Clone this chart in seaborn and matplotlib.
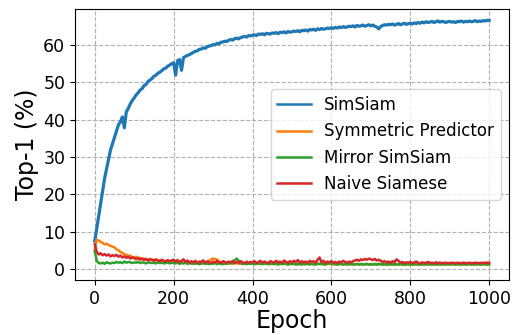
import matplotlib
matplotlib.use("Agg")
import matplotlib.pyplot as plt
import pandas as pd
import seaborn as sns
import numpy as np

# values, one point every 5 epochs (0..1000)
epochs = list(range(0, 1001, 5))

simsiam = [
    7.5, 10.8, 14.2, 17.6, 21.0, 24.3, 26.8, 29.4, 31.9, 33.6,
    35.2, 36.9, 38.6, 39.4, 40.7, 37.8, 42.1, 43.0, 44.2, 45.1,
    45.8, 46.6, 47.2, 47.9, 48.3, 49.1, 49.4, 50.2, 50.6, 51.0,
    51.6, 51.9, 52.4, 52.7, 53.1, 53.6, 53.8, 54.3, 54.6, 55.0,
    55.2, 51.9, 55.8, 56.1, 53.2, 56.6, 56.9, 57.2, 57.4, 57.7,
    58.0, 58.3, 58.4, 58.8, 58.9, 59.2, 59.1, 59.5, 59.7, 59.8,
    60.1, 60.0, 60.4, 60.3, 60.7, 60.8, 61.0, 60.9, 61.3, 61.4,
    61.3, 61.7, 61.8, 61.6, 62.0, 62.1, 62.3, 62.1, 62.5, 62.4,
    62.6, 62.7, 62.5, 62.9, 62.8, 63.0, 62.7, 63.1, 63.0, 62.9,
    63.2, 63.1, 63.3, 63.0, 63.4, 63.3, 63.5, 63.2, 63.6, 63.4,
    63.5, 63.7, 63.6, 63.8, 63.5, 63.9, 63.8, 64.0, 63.7, 64.1,
    64.0, 64.2, 63.9, 64.3, 64.1, 64.4, 64.2, 64.3, 64.5, 64.4,
    64.6, 64.4, 64.7, 64.5, 64.8, 64.6, 64.9, 64.7, 64.8, 65.0,
    64.9, 65.1, 64.8, 65.2, 65.0, 65.1, 65.3, 65.0, 65.2, 65.4,
    65.1, 65.3, 65.0, 64.8, 64.3, 64.9, 65.2, 65.4, 65.3, 65.5,
    65.4, 65.6, 65.3, 65.5, 65.7, 65.4, 65.6, 65.8, 65.5, 65.7,
    65.8, 65.6, 65.9, 65.7, 66.0, 65.8, 66.1, 65.9, 66.2, 66.0,
    66.1, 66.3, 66.0, 66.2, 66.4, 66.1, 66.3, 66.2, 66.0, 66.2,
    66.3, 66.1, 66.2, 66.0, 66.3, 66.2, 66.4, 66.1, 66.3, 66.2,
    66.4, 66.2, 66.3, 66.5, 66.2, 66.4, 66.3, 66.5, 66.4, 66.6,
    66.5,
]

symmetric_predictor = [
    5.2, 7.9, 7.6, 7.3, 7.0, 6.6, 6.8, 6.4, 6.2, 6.0,
    5.8, 5.3, 5.0, 4.6, 4.3, 4.0, 3.8, 3.5, 3.6, 3.2,
    3.1, 3.3, 2.9, 3.0, 2.7, 2.8, 2.6, 2.5, 2.7, 2.4,
    2.5, 2.3, 2.4, 2.2, 2.3, 2.1, 2.2, 2.0, 2.1, 1.9,
    2.0, 1.8, 1.9, 1.7, 1.8, 1.6, 1.7, 1.5, 1.6, 1.5,
    1.6, 1.4, 1.5, 1.5, 1.4, 1.6, 1.5, 1.7, 2.2, 2.6,
    2.8, 2.7, 2.5, 2.1, 1.7, 1.5, 1.6, 1.4, 1.5, 1.6,
    1.4, 1.5, 1.6, 1.4, 1.5, 1.3, 1.5, 1.6, 1.4, 1.5,
    1.6, 1.4, 1.5, 1.3, 1.4, 1.6, 1.5, 1.4, 1.5, 1.3,
    1.4, 1.5, 1.3, 1.4, 1.6, 1.5, 1.3, 1.4, 1.2, 1.4,
    1.5, 1.3, 1.4, 1.2, 1.4, 1.5, 1.3, 1.4, 1.3, 1.5,
    1.4, 1.2, 1.3, 1.5, 1.4, 1.3, 1.4, 1.2, 1.3, 1.4,
    1.3, 1.4, 1.2, 1.3, 1.4, 1.3, 1.2, 1.4, 1.3, 1.2,
    1.3, 1.4, 1.2, 1.3, 1.2, 1.4, 1.3, 1.2, 1.3, 1.2,
    1.3, 1.2, 1.4, 1.3, 1.2, 1.3, 1.2, 1.3, 1.1, 1.2,
    1.3, 1.2, 1.1, 1.3, 1.2, 1.3, 1.2, 1.1, 1.2, 1.3,
    1.2, 1.3, 1.2, 1.2, 1.3, 1.2, 1.2, 1.3, 1.2, 1.2,
    1.3, 1.2, 1.2, 1.3, 1.2, 1.2, 1.3, 1.2, 1.2, 1.3,
    1.2, 1.2, 1.3, 1.2, 1.2, 1.3, 1.2, 1.2, 1.3, 1.2,
    1.2, 1.3, 1.2, 1.2, 1.3, 1.2, 1.2, 1.3, 1.2, 1.3,
    1.2,
]

mirror_simsiam = [
    4.8, 2.2, 1.6, 1.5, 1.7, 1.4, 1.8, 1.6, 1.5, 1.7,
    1.6, 1.9, 1.7, 1.8, 1.6, 2.0, 1.7, 1.9, 1.8, 1.6,
    1.8, 1.7, 1.9, 1.6, 1.8, 1.7, 1.5, 1.8, 1.7, 1.6,
    1.7, 1.5, 1.8, 1.6, 1.7, 1.5, 1.6, 1.8, 1.5, 1.7,
    1.6, 1.5, 1.7, 1.4, 1.6, 1.5, 1.7, 1.4, 1.6, 1.5,
    1.4, 1.6, 1.5, 1.3, 1.5, 1.6, 1.4, 1.5, 1.3, 1.5,
    1.4, 1.6, 1.3, 1.5, 1.4, 1.3, 1.5, 1.4, 1.6, 1.5,
    1.7, 2.4, 2.8, 2.2, 1.6, 1.4, 1.5, 1.3, 1.5, 1.4,
    1.5, 1.3, 1.4, 1.6, 1.4, 1.3, 1.5, 1.4, 1.3, 1.5,
    1.4, 1.3, 1.5, 1.2, 1.4, 1.3, 1.5, 1.4, 1.2, 1.4,
    1.3, 1.5, 1.2, 1.4, 1.3, 1.2, 1.4, 1.3, 1.5, 1.2,
    1.4, 1.3, 1.2, 1.4, 1.3, 1.5, 1.2, 1.3, 1.4, 1.6,
    1.5, 1.3, 1.4, 1.2, 1.3, 1.4, 1.2, 1.3, 1.2, 1.4,
    1.3, 1.2, 1.3, 1.4, 1.2, 1.3, 1.2, 1.3, 1.4, 1.2,
    1.3, 1.2, 1.3, 1.2, 1.4, 1.3, 1.2, 1.3, 1.2, 1.3,
    1.2, 1.3, 1.2, 1.3, 1.2, 1.3, 1.3, 1.2, 1.3, 1.2,
    1.3, 1.2, 1.3, 1.3, 1.2, 1.3, 1.2, 1.3, 1.2, 1.3,
    1.3, 1.2, 1.3, 1.2, 1.3, 1.3, 1.2, 1.3, 1.2, 1.3,
    1.2, 1.3, 1.3, 1.2, 1.3, 1.2, 1.3, 1.3, 1.2, 1.3,
    1.3, 1.2, 1.3, 1.2, 1.3, 1.3, 1.2, 1.3, 1.3, 1.2,
    1.3,
]

naive_siamese = [
    6.6, 4.6, 3.9, 4.2, 3.7, 4.0, 3.6, 3.9, 3.4, 3.7,
    3.5, 3.8, 3.3, 3.6, 3.1, 3.4, 3.0, 3.3, 2.8, 3.1,
    2.9, 2.6, 3.0, 2.5, 2.8, 2.4, 2.7, 2.3, 2.6, 2.5,
    2.2, 2.6, 2.3, 2.1, 2.5, 2.2, 2.0, 2.4, 2.1, 2.3,
    2.5, 2.0, 2.4, 1.8, 2.2, 2.6, 1.9, 2.3, 1.7, 2.1,
    1.8, 2.2, 1.6, 2.0, 1.9, 2.3, 1.7, 2.1, 1.8, 1.6,
    2.0, 1.7, 2.2, 1.8, 1.6, 2.1, 1.9, 1.7, 2.0, 1.8,
    2.2, 1.6, 1.9, 1.7, 2.1, 1.8, 1.6, 2.0, 1.7, 1.9,
    1.8, 2.1, 1.6, 1.9, 2.2, 1.7, 2.0, 1.8, 1.6, 2.1,
    1.9, 1.7, 2.2, 1.8, 2.0, 1.6, 2.3, 1.9, 1.7, 2.1,
    1.8, 2.2, 1.9, 2.4, 1.7, 2.1, 1.8, 2.0, 1.6, 2.2,
    1.9, 2.1, 1.7, 2.5, 3.1, 1.8, 2.2, 1.6, 2.0, 1.8,
    2.1, 1.7, 1.9, 1.6, 2.0, 1.8, 2.2, 1.9, 1.7, 2.0,
    1.8, 2.1, 2.3, 2.5, 2.2, 2.6, 2.4, 2.7, 2.5, 2.8,
    2.6, 2.4, 2.7, 2.3, 2.5, 2.2, 1.9, 2.1, 1.8, 2.0,
    1.7, 2.1, 1.8, 2.6, 2.2, 1.7, 1.9, 1.6, 1.8, 1.7,
    1.9, 1.6, 1.8, 2.0, 1.7, 1.5, 1.8, 1.6, 1.7, 1.9,
    1.6, 1.7, 1.5, 1.8, 1.6, 1.7, 1.6, 1.6, 1.7, 1.6,
    1.6, 1.7, 1.6, 1.6, 1.7, 1.6, 1.6, 1.7, 1.6, 1.6,
    1.7, 1.6, 1.6, 1.7, 1.6, 1.6, 1.7, 1.6, 1.7, 1.7,
    1.7,
]

methods = ["SimSiam", "Symmetric Predictor", "Mirror SimSiam", "Naive Siamese"]
series = [simsiam, symmetric_predictor, mirror_simsiam, naive_siamese]

rows = []
for name, vals in zip(methods, series):
    for e, v in zip(epochs, vals):
        rows.append({"Epoch": e, "Top-1": v, "method": name})
df = pd.DataFrame(rows)

fig = plt.figure(figsize=(5.14, 3.35), dpi=100)
ax = fig.add_axes([0.146, 0.164, 0.844, 0.809])

sns.lineplot(data=df, x="Epoch", y="Top-1", hue="method", hue_order=methods,
             palette=["#1f77b4", "#ff7f0e", "#2ca02c", "#d62728"],
             linewidth=1.8, ax=ax)
# the SimSiam curve looks heavier in the original (per-epoch noise)
ax.lines[0].set_linewidth(2.3)

ax.set_xlim(-50, 1050)
ax.set_ylim(-2.95, 69.6)
ax.set_xticks([0, 200, 400, 600, 800, 1000])
ax.set_yticks([0, 10, 20, 30, 40, 50, 60])
ax.grid(True, linestyle="--", color="#b0b0b0", linewidth=0.8)
ax.tick_params(labelsize=12.5)
ax.set_xlabel("Epoch", fontsize=17, labelpad=1)
ax.set_ylabel("Top-1 (%)", fontsize=17, labelpad=3)

leg = ax.legend(loc="center right", fontsize=12, handlelength=2.0)

fig.savefig("out.png", dpi=100)
